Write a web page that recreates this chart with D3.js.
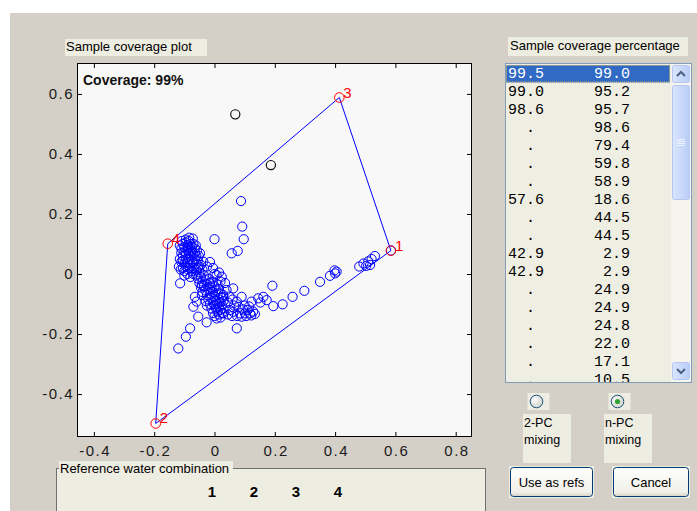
<!DOCTYPE html>
<html>
<head>
<meta charset="utf-8">
<script src="https://cdn.jsdelivr.net/npm/d3@7"></script>
<style>
  html, body { margin: 0; padding: 0; background: #ffffff; }
  svg { display: block; }
  text { font-family: "Liberation Sans", Arial, Helvetica, sans-serif; }
</style>
</head>
<body>
<svg id="fig" width="697" height="511"></svg>
<script>
// ---- axis setup ----
const xTicks = [-0.4, -0.2, 0, 0.2, 0.4, 0.6, 0.8];
const yTicks = [-0.4, -0.2, 0, 0.2, 0.4, 0.6];
const xLimits = [-0.456, 0.854];
const yLimits = [-0.543, 0.703];
const coverageText = "Coverage: 99%";

// ---- end members (reference waters) ----
const endMemberIds = ["1", "2", "3", "4"];
const endMemberX = [0.585, -0.195, 0.414, -0.155];
const endMemberY = [0.078, -0.498, 0.588, 0.101];
const hullOrder = [3, 2, 0, 1, 3]; // 4 -> 3 -> 1 -> 2 -> 4

// ---- samples outside the mixing polygon ----
const outsideX = [0.069, 0.187];
const outsideY = [0.532, 0.363];

// ---- samples (PC1, PC2) ----
const samples = [
  // tail toward end member 1
  [0.585, 0.078], [0.532, 0.060], [0.521, 0.050], [0.510, 0.042], [0.516, 0.030], [0.503, 0.027],
  [0.494, 0.035], [0.480, 0.025], [0.405, 0.008], [0.398, 0.012], [0.400, 0.002], [0.383, -0.006],
  [0.350, -0.026], [0.298, -0.056], [0.259, -0.076], [0.226, -0.101], [0.195, -0.107], [0.192, -0.039],
  [0.173, -0.087], [0.162, -0.076], [0.145, -0.081], [0.152, -0.095], [0.123, -0.092], [0.090, -0.076],
  [0.074, -0.092],
  // upper scattered
  [0.088, 0.243], [0.092, 0.158], [0.097, 0.116], [0.000, 0.116], [0.057, 0.069], [0.077, 0.077],
  [-0.084, 0.121],
  // lower scattered
  [0.074, -0.181], [-0.081, -0.181], [-0.095, -0.209], [-0.120, -0.248], [-0.114, -0.031],
  // band to the right of the diagonal
  [0.050, -0.120], [0.062, -0.126], [0.085, -0.131], [0.101, -0.131], [0.118, -0.131], [0.128, -0.125],
  [0.110, -0.120], [0.095, -0.118], [0.075, -0.140], [0.090, -0.142], [0.105, -0.140], [0.122, -0.138],
  [0.134, -0.133], [0.115, -0.108], [0.100, -0.105], [0.080, -0.110], [0.065, -0.105], [0.058, -0.140],
  [0.045, -0.135],
  // scattered middle
  [0.040, -0.053], [0.062, -0.048], [0.029, -0.070], [0.007, -0.003], [0.024, -0.009], [-0.015, -0.031],
  [-0.042, -0.037], [0.050, -0.075], [0.035, -0.030], [0.015, 0.005], [-0.005, 0.020], [-0.015, 0.040],
  [-0.037, 0.041], [-0.048, 0.069], [-0.025, 0.025], [0.000, 0.000], [0.020, -0.025], [0.045, -0.095],
  [0.060, -0.085],
  // diagonal branch
  [-0.055, -0.015], [-0.045, -0.010], [-0.035, -0.005], [-0.050, -0.030], [-0.040, -0.025], [-0.030, -0.020],
  [-0.020, -0.015], [-0.045, -0.045], [-0.035, -0.040], [-0.025, -0.035], [-0.015, -0.030], [-0.005, -0.025],
  [-0.040, -0.060], [-0.030, -0.055], [-0.020, -0.050], [-0.010, -0.045], [0.000, -0.040], [0.010, -0.035],
  [-0.025, -0.070], [-0.015, -0.065], [-0.005, -0.060], [0.005, -0.055], [0.015, -0.050], [-0.020, -0.085],
  [-0.010, -0.080], [0.000, -0.075], [0.010, -0.070], [0.020, -0.065], [-0.005, -0.095], [0.005, -0.090],
  [0.015, -0.085], [0.025, -0.080], [0.000, -0.105], [0.010, -0.100], [0.020, -0.095], [0.030, -0.090],
  [0.005, -0.115], [0.015, -0.110], [0.025, -0.105], [0.010, -0.125], [0.020, -0.120], [0.030, -0.115],
  [0.015, -0.135], [0.025, -0.130], [0.020, -0.145], [-0.015, -0.100], [-0.010, -0.115], [-0.005, -0.130],
  [0.000, -0.140], [-0.030, -0.090], [-0.025, -0.105],
  [-0.070, -0.109], [-0.054, -0.142], [-0.026, -0.161], [-0.065, -0.076], [-0.042, -0.070], [-0.059, -0.092],
  [0.007, -0.148], [0.029, -0.131], [0.029, -0.076],
  // dense cloud near end member 4
  [-0.115, 0.095], [-0.110, 0.085], [-0.105, 0.100], [-0.100, 0.090], [-0.095, 0.105], [-0.090, 0.095],
  [-0.085, 0.110], [-0.080, 0.100], [-0.075, 0.090], [-0.070, 0.100], [-0.065, 0.085], [-0.110, 0.070],
  [-0.105, 0.060], [-0.100, 0.075], [-0.095, 0.065], [-0.090, 0.080], [-0.085, 0.070], [-0.080, 0.060],
  [-0.075, 0.075], [-0.070, 0.065], [-0.065, 0.070], [-0.060, 0.060], [-0.115, 0.050], [-0.110, 0.040],
  [-0.105, 0.045], [-0.100, 0.035], [-0.095, 0.050], [-0.090, 0.040], [-0.085, 0.050], [-0.080, 0.035],
  [-0.075, 0.045], [-0.070, 0.040], [-0.065, 0.050], [-0.060, 0.035], [-0.055, 0.045], [-0.118, 0.025],
  [-0.112, 0.015], [-0.105, 0.020], [-0.100, 0.010], [-0.095, 0.025], [-0.088, 0.015], [-0.082, 0.020],
  [-0.075, 0.010], [-0.068, 0.020], [-0.062, 0.015], [-0.055, 0.020], [-0.050, 0.025], [-0.100, -0.005],
  [-0.090, 0.000], [-0.080, -0.010], [-0.070, 0.000], [-0.060, -0.005], [-0.050, 0.005], [-0.095, 0.115],
  [-0.072, 0.118], [-0.045, 0.030], [-0.040, 0.015], [-0.108, 0.110], [-0.088, 0.088], [-0.078, 0.082],
  [-0.062, 0.095], [-0.058, 0.078], [-0.052, 0.060]
];

// ---- coverage list ----
const coverageA = ["99.5", "99.0", "98.6", ".", ".", ".", ".", "57.6", ".", ".", "42.9", "42.9",
                   ".", ".", ".", ".", ".", "."];
const coverageB = ["99.0", "95.2", "95.7", "98.6", "79.4", "59.8", "58.9", "18.6", "44.5", "44.5",
                   "2.9", "2.9", "24.9", "24.9", "24.8", "22.0", "17.1", "10.5"];
const combination = ["1", "2", "3", "4"];

// ---- colours ----
const figBg = "#d4d0c8";
const beige = "#eeede1";
const axBg = "#f8f8f8";

const svg = d3.select("#fig");

// window edge and figure background
svg.append("rect").attr("x", 0).attr("y", 0).attr("width", 697).attr("height", 511).attr("fill", "#ffffff");
svg.append("rect").attr("x", 10).attr("y", 13).attr("width", 687).attr("height", 498).attr("fill", figBg);

// ---- plot ----
const x = d3.scaleLinear().domain(xLimits).range([77, 472]);
const y = d3.scaleLinear().domain(yLimits).range([437, 63]);

svg.append("rect")
  .attr("x", 65).attr("y", 39).attr("width", 142).attr("height", 17).attr("fill", beige);
svg.append("text").attr("x", 66).attr("y", 51).attr("font-size", 13).attr("fill", "#000")
  .text("Sample coverage plot");

svg.append("rect")
  .attr("x", x.range()[0]).attr("y", y.range()[1])
  .attr("width", x.range()[1] - x.range()[0]).attr("height", y.range()[0] - y.range()[1])
  .attr("fill", axBg);

const fmt = d => String(d);
const tickFont = g => g.selectAll("text")
  .attr("font-size", 15).attr("fill", "#1a1a1a")
  .style("letter-spacing", "1.5px")
  .style("font-family", "'Liberation Sans', Arial, sans-serif");

const gB = svg.append("g").attr("transform", `translate(0,${y.range()[0]})`)
  .call(d3.axisBottom(x).tickValues(xTicks).tickFormat(fmt).tickSizeInner(-5).tickSizeOuter(0).tickPadding(8));
const gT = svg.append("g").attr("transform", `translate(0,${y.range()[1]})`)
  .call(d3.axisTop(x).tickValues(xTicks).tickFormat("").tickSizeInner(-5).tickSizeOuter(0));
const gL = svg.append("g").attr("transform", `translate(${x.range()[0]},0)`)
  .call(d3.axisLeft(y).tickValues(yTicks).tickFormat(fmt).tickSizeInner(-5).tickSizeOuter(0).tickPadding(3));
const gR = svg.append("g").attr("transform", `translate(${x.range()[1]},0)`)
  .call(d3.axisRight(y).tickValues(yTicks).tickFormat("").tickSizeInner(-5).tickSizeOuter(0));
[gB, gT, gL, gR].forEach(g => {
  g.select(".domain").remove();
  g.selectAll("line").attr("stroke", "#000");
  tickFont(g);
});
gB.selectAll("text").attr("dx", "0.75px");

svg.append("rect")
  .attr("x", x.range()[0] + 0.5).attr("y", y.range()[1] + 0.5)
  .attr("width", x.range()[1] - x.range()[0] - 1).attr("height", y.range()[0] - y.range()[1] - 1)
  .attr("fill", "none").attr("stroke", "#000").attr("stroke-width", 1);

svg.append("text").attr("x", 83).attr("y", 85)
  .attr("font-size", 14).attr("font-weight", "bold").attr("fill", "#111")
  .text(coverageText);

// samples
svg.append("g").selectAll("circle").data(samples).join("circle")
  .attr("cx", d => x(d[0])).attr("cy", d => y(d[1])).attr("r", 4.6)
  .attr("fill", "none").attr("stroke", "#0000ff").attr("stroke-width", 1);

// mixing polygon
const hull = hullOrder.map(i => [endMemberX[i], endMemberY[i]]);
svg.append("path")
  .attr("d", d3.line().x(d => x(d[0])).y(d => y(d[1]))(hull))
  .attr("fill", "none").attr("stroke", "#0000ff").attr("stroke-width", 1);

// samples outside
svg.append("g").selectAll("circle").data(outsideX.map((v, i) => [v, outsideY[i]])).join("circle")
  .attr("cx", d => x(d[0])).attr("cy", d => y(d[1])).attr("r", 4.6)
  .attr("fill", "none").attr("stroke", "#000").attr("stroke-width", 1.1);

// end members
const em = endMemberIds.map((id, i) => ({ id, px: endMemberX[i], py: endMemberY[i] }));
svg.append("g").selectAll("circle").data(em).join("circle")
  .attr("cx", d => x(d.px)).attr("cy", d => y(d.py)).attr("r", 4.8)
  .attr("fill", "none").attr("stroke", "#ff0000").attr("stroke-width", 1);
svg.append("g").selectAll("text").data(em).join("text")
  .attr("x", d => x(d.px) + 4).attr("y", d => y(d.py))
  .attr("font-size", 15).attr("fill", "#ff0000")
  .text(d => d.id);

// ---- reference water combination panel ----
svg.append("rect")
  .attr("x", 56.5).attr("y", 468.5).attr("width", 429).attr("height", 50)
  .attr("fill", beige).attr("stroke", "#6f6f6f").attr("stroke-width", 1);
svg.append("rect").attr("x", 59).attr("y", 461).attr("width", 174).attr("height", 14).attr("fill", beige);
svg.append("text").attr("x", 60).attr("y", 473).attr("font-size", 13).attr("fill", "#000")
  .text("Reference water combination");
const comboX = d3.scalePoint().domain(combination).range([212, 338]);
svg.append("g").selectAll("text").data(combination).join("text")
  .attr("x", d => comboX(d)).attr("y", 497).attr("text-anchor", "middle")
  .attr("font-size", 15).attr("font-weight", "bold").attr("fill", "#000")
  .text(d => d);

// ---- coverage percentage list ----
svg.append("rect")
  .attr("x", 508).attr("y", 37).attr("width", 180).attr("height", 19).attr("fill", beige);
svg.append("text").attr("x", 510).attr("y", 50).attr("font-size", 13).attr("fill", "#000")
  .text("Sample coverage percentage");

svg.append("rect")
  .attr("x", 505.5).attr("y", 63.5).attr("width", 186).attr("height", 319)
  .attr("fill", "#efeee3").attr("stroke", "#7f9db9").attr("stroke-width", 1);

const defs = svg.append("defs");
defs.append("clipPath").attr("id", "listClip")
  .append("rect").attr("x", 506).attr("y", 64).attr("width", 165).attr("height", 318);

const rowH = 18;
const list = svg.append("g").attr("clip-path", "url(#listClip)");
list.append("rect")
  .attr("x", 506).attr("y", 65).attr("width", 164).attr("height", 17.5).attr("fill", "#316ac5");
list.append("rect")
  .attr("x", 506.5).attr("y", 65.5).attr("width", 163).attr("height", 16.5)
  .attr("fill", "none").attr("stroke", "#e8c060").attr("stroke-dasharray", "1,1");

const rows = coverageA.map((a, i) => ({ a, b: coverageB[i], i }));
const rowText = list.selectAll("text.row").data(rows).join("text")
  .attr("class", "row")
  .attr("y", d => 78 + rowH * d.i)
  .attr("font-size", 15)
  .style("font-family", "'Liberation Mono', 'Courier New', monospace")
  .style("white-space", "pre")
  .attr("fill", d => d.i === 0 ? "#ffffff" : "#000000");
rowText.append("tspan").attr("x", 508)
  .text(d => d.a === "." ? "  ." : d.a);
rowText.append("tspan").attr("x", 594)
  .text(d => d.b.padStart(4, " "));

// scrollbar
const sb = svg.append("g");
sb.append("rect").attr("x", 671).attr("y", 64).attr("width", 20).attr("height", 318).attr("fill", "#f5f4ef");
const btnGrad = defs.append("linearGradient").attr("id", "sbGrad").attr("x1", 0).attr("x2", 1).attr("y1", 0).attr("y2", 0);
btnGrad.append("stop").attr("offset", "0%").attr("stop-color", "#dbe6fd");
btnGrad.append("stop").attr("offset", "100%").attr("stop-color", "#b8cdf8");
sb.append("rect").attr("x", 672.5).attr("y", 65.5).attr("width", 17).attr("height", 17).attr("rx", 2)
  .attr("fill", "url(#sbGrad)").attr("stroke", "#b6c8f2");
sb.append("path").attr("d", "M677,76 L681,72 L685,76").attr("fill", "none").attr("stroke", "#4d6185").attr("stroke-width", 2);
sb.append("rect").attr("x", 672.5).attr("y", 85.5).attr("width", 17).attr("height", 114).attr("rx", 2)
  .attr("fill", "url(#sbGrad)").attr("stroke", "#b6c8f2");
[139, 141, 143, 145].forEach(v => sb.append("line")
  .attr("x1", 677).attr("x2", 685).attr("y1", v + 0.5).attr("y2", v + 0.5)
  .attr("stroke", "#eef3fe"));
sb.append("rect").attr("x", 672.5).attr("y", 362.5).attr("width", 17).attr("height", 17).attr("rx", 2)
  .attr("fill", "url(#sbGrad)").attr("stroke", "#b6c8f2");
sb.append("path").attr("d", "M677,369 L681,373 L685,369").attr("fill", "none").attr("stroke", "#4d6185").attr("stroke-width", 2);

// ---- mixing mode radio buttons ----
const modes = [{ label: ["2-PC", "mixing"], x: 536.5, on: false }, { label: ["n-PC", "mixing"], x: 617.5, on: true }];
const radioGrad = defs.append("radialGradient").attr("id", "radGrad").attr("cx", "35%").attr("cy", "35%");
radioGrad.append("stop").attr("offset", "0%").attr("stop-color", "#ffffff");
radioGrad.append("stop").attr("offset", "100%").attr("stop-color", "#dcdcd6");
modes.forEach(m => {
  svg.append("rect").attr("x", m.x - 9).attr("y", 393).attr("width", 22).attr("height", 17).attr("fill", beige);
  svg.append("circle").attr("cx", m.x).attr("cy", 401.5).attr("r", 6.3)
    .attr("fill", "url(#radGrad)").attr("stroke", "#1c5180").attr("stroke-width", 1);
  if (m.on) svg.append("circle").attr("cx", m.x).attr("cy", 401.5).attr("r", 2.6).attr("fill", "#2fa52f");
  svg.append("rect").attr("x", m.x - 13.5).attr("y", 414).attr("width", 48).attr("height", 49).attr("fill", beige);
  m.label.forEach((t, k) => svg.append("text")
    .attr("x", m.x - 12.5).attr("y", 427 + k * 16.5).attr("font-size", 12.5).attr("fill", "#000").text(t));
});

// ---- buttons ----
const bGrad = defs.append("linearGradient").attr("id", "btnGrad").attr("x1", 0).attr("x2", 0).attr("y1", 0).attr("y2", 1);
bGrad.append("stop").attr("offset", "0%").attr("stop-color", "#ffffff");
bGrad.append("stop").attr("offset", "85%").attr("stop-color", "#f0efe8");
bGrad.append("stop").attr("offset", "100%").attr("stop-color", "#d6d0c5");
const buttons = [{ t: "Use as refs", x: 510, w: 83 }, { t: "Cancel", x: 613, w: 76 }];
buttons.forEach(b => {
  svg.append("rect").attr("x", b.x - 1).attr("y", 466).attr("width", b.w + 2).attr("height", 32).attr("fill", beige);
  svg.append("rect").attr("x", b.x + 0.5).attr("y", 467.5).attr("width", b.w - 1).attr("height", 29).attr("rx", 3)
    .attr("fill", "url(#btnGrad)").attr("stroke", "#003c74").attr("stroke-width", 1);
  svg.append("text").attr("x", b.x + b.w / 2).attr("y", 486.5).attr("text-anchor", "middle")
    .attr("font-size", 13).attr("fill", "#000").text(b.t);
});
</script>
</body>
</html>
